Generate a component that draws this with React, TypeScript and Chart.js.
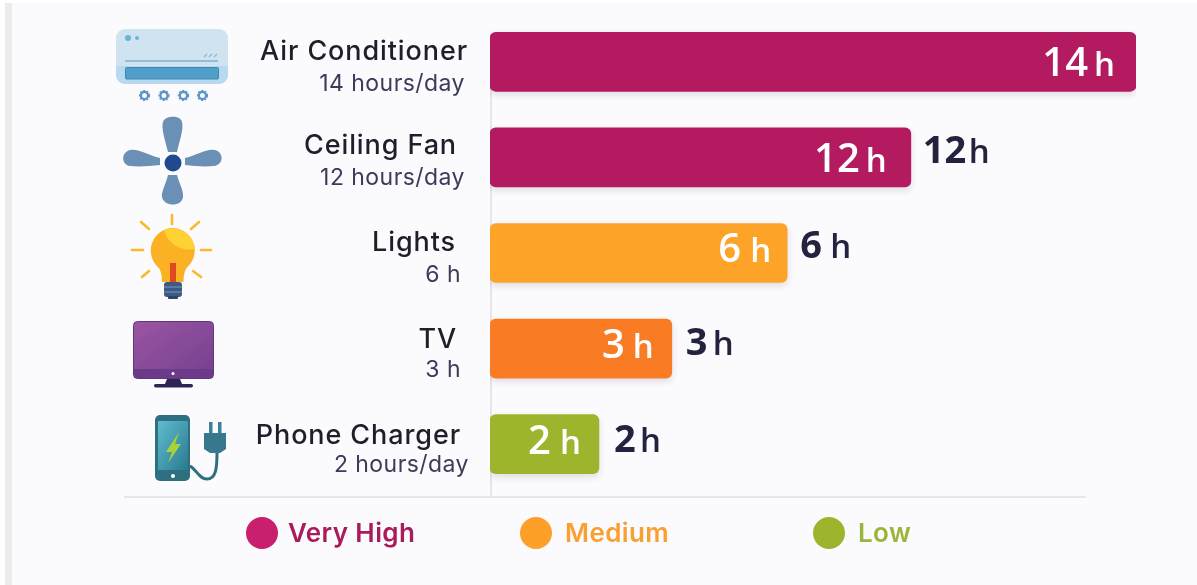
import React, { useEffect, useRef } from "react";
import { Chart, registerables } from "chart.js";

Chart.register(...registerables);

const appliances = ["Air Conditioner", "Ceiling Fan", "Lights", "TV", "Phone Charger"];
const usageNotes = ["14 hours/day", "12 hours/day", "6 h", "3 h", "2 hours/day"];
const statedHours = [14, 12, 6, 3, 2];
// The picture's bars are not proportional to their printed hours, so drawn lengths are read separately.
const drawnLengths = [14, 9.12, 6.44, 3.94, 2.36];
const barColors = ["#b31a60", "#b31a60", "#fda428", "#f97b24", "#9db52c"];
const legendNames = ["Very High", "Medium", "Low"];
const legendDots = ["#c81f6e", "#fd9f28", "#9db52c"];
const legendTexts = ["#a91b5c", "#f9a033", "#98b63a"];

const UI = '"Open Sans", "Noto Sans", sans-serif';
const LABEL = 'Inter, "Open Sans", sans-serif';
const nameStyle = [
  { r: 468, y: 60 }, { r: 457, y: 154 }, { r: 456, y: 251 }, { r: 457, y: 348 }, { r: 461, y: 444 },
];
const noteStyle = [
  { r: 465, y: 91 }, { r: 465, y: 185 }, { r: 461, y: 282 }, { r: 461, y: 377 }, { r: 469, y: 472 },
];
const insideStyle = [
  { back: 21, dy: 14, gap: 8 }, { back: 24, dy: 14.5, gap: 8 }, { back: 16, dy: 9, gap: 11 },
  { back: 18, dy: 9.5, gap: 10 }, { back: 18, dy: 10, gap: 11 },
];
const outsideStyle = [
  null, { start: 12, end: 79, dy: 5.5 }, { start: 13, end: 64, dy: 5 },
  { start: 14, end: 62, dy: 6.5 }, { start: 15, end: 62, dy: 8 },
];
const legendX = [262, 536, 829];
const legendTextX = [288, 565, 858];

const drawHours = (ctx: CanvasRenderingContext2D, n: number, numEnd: number, hEnd: number, y: number, color: string, numFont: string, hFont: string) => {
  ctx.fillStyle = color;
  ctx.textBaseline = "alphabetic";
  ctx.textAlign = "right";
  ctx.font = hFont;
  ctx.fillText("h", hEnd, y);
  ctx.font = numFont;
  ctx.fillText(String(n), numEnd, y);
};

const framePlugin = {
  id: "frame",
  beforeDatasetsDraw(chart: any) {
    const { ctx, scales } = chart;
    const zero = scales.x.getPixelForValue(0);
    ctx.save();
    ctx.strokeStyle = "#e6e4ec";
    ctx.lineWidth = 2;
    ctx.beginPath();
    ctx.moveTo(zero + 1, scales.y.getPixelForValue(0));
    ctx.lineTo(zero + 1, 497);
    ctx.moveTo(124, 497);
    ctx.lineTo(1086, 497);
    ctx.stroke();
    ctx.restore();
    ctx.save();
    ctx.shadowColor = "rgba(60,40,70,0.14)";
    ctx.shadowBlur = 7;
    ctx.shadowOffsetY = 3;
  },
  afterDatasetsDraw(chart: any) {
    const { ctx } = chart;
    ctx.restore();
    const bars = chart.getDatasetMeta(0).data;
    ctx.save();
    bars.forEach((bar: any, i: number) => {
      ctx.textBaseline = "alphabetic";
      ctx.textAlign = "right";
      ctx.fillStyle = "#1f1f2b";
      ctx.letterSpacing = "0.9px";
      ctx.font = `500 27px ${LABEL}`;
      ctx.fillText(appliances[i], nameStyle[i].r, nameStyle[i].y);
      ctx.fillStyle = "#3b3b5a";
      ctx.letterSpacing = "0.45px";
      ctx.font = `400 23px ${LABEL}`;
      ctx.fillText(usageNotes[i], noteStyle[i].r, noteStyle[i].y);
      ctx.letterSpacing = "0px";

      const ins = insideStyle[i];
      const hEnd = bar.x - ins.back;
      drawHours(ctx, statedHours[i], hEnd - 19 - ins.gap, hEnd, bar.y + ins.dy, "#ffffff", `600 40px ${UI}`, `600 33px ${UI}`);

      const out = outsideStyle[i];
      if (out) {
        const numFont = `700 38px ${UI}`;
        ctx.font = numFont;
        const w = ctx.measureText(String(statedHours[i])).width;
        drawHours(ctx, statedHours[i], bar.x + out.start + w, bar.x + out.end, bar.y + out.dy, "#23233f", numFont, `600 33px ${UI}`);
      }
    });
    legendNames.forEach((name, i) => {
      ctx.fillStyle = legendDots[i];
      ctx.beginPath();
      ctx.arc(legendX[i], 533, 16, 0, Math.PI * 2);
      ctx.fill();
      ctx.fillStyle = legendTexts[i];
      ctx.textAlign = "left";
      ctx.letterSpacing = "0.4px";
      ctx.font = `600 26px ${LABEL}`;
      ctx.fillText(name, legendTextX[i], 542);
    });
    ctx.restore();
  },
};

const Icons = () => (
  <svg width={1197} height={585} style={{ position: "absolute", left: 0, top: 0, pointerEvents: "none", filter: "blur(0.4px)" }}>
    <defs>
      <linearGradient id="scr" x1="0" y1="0" x2="1" y2="1">
        <stop offset="0" stopColor="#5fbcd0" />
        <stop offset="1" stopColor="#2b7a8f" />
      </linearGradient>
      <linearGradient id="tv" x1="0" y1="0" x2="1" y2="1">
        <stop offset="0" stopColor="#9a55a2" />
        <stop offset="1" stopColor="#74408f" />
      </linearGradient>
    </defs>
    {/* air conditioner */}
    <rect x={116} y={29} width={112} height={55} rx={9} fill="#cfe3f1" />
    <path d="M116 66H228V75a9 9 0 0 1-9 9H125a9 9 0 0 1-9-9Z" fill="#b8d9ef" />
    <line x1={125} y1={61} x2={218} y2={61} stroke="#7fb0d0" strokeWidth={1.5} />
    <rect x={125.5} y={67.5} width={93} height={11.5} rx={1} fill="#4f9fca" stroke="#3f87ae" />
    <circle cx={128} cy={38} r={3} fill="#6cb3d6" />
    <circle cx={137} cy={38} r={2} fill="#6cb3d6" />
    <path d="M204 57l3-3M209 57l3-3M214 57l3-3" stroke="#8fb6cf" strokeWidth={1.2} />
    {[144.5, 164, 183.5, 202.5].map((x) => (
      <g key={x}>
        <circle cx={x} cy={95.5} r={3.6} fill="none" stroke="#5c93c8" strokeWidth={2.2} />
        <circle cx={x} cy={95.5} r={5} fill="none" stroke="#5c93c8" strokeWidth={1.2} strokeDasharray="2 1.6" />
      </g>
    ))}
    {/* fan */}
    <g fill="#6b90b6">
      <path d="M168 152C165 140 161 128 163 122C165 115 181 115 182 122C184 130 179 142 177 152Z" />
      <path d="M168 175C166 184 161 192 162 197C164 207 182 207 183 197C184 191 179 183 177 175Z" />
      <path d="M160 158C148 155 138 148 130 150C121 152 121 165 130 166C140 167 150 166 160 165Z" />
      <path d="M185 158C197 155 207 148 215 150C224 152 224 165 214 166C204 167 194 166 185 165Z" />
    </g>
    <circle cx={173} cy={163} r={8.5} fill="#1f4a8f" />
    {/* bulb */}
    <g stroke="#fbb92e" strokeWidth={2.6} strokeLinecap="round">
      <line x1={172} y1={215} x2={172} y2={224} />
      <line x1={141} y1={222} x2={149} y2={229} />
      <line x1={199} y1={222} x2={191} y2={229} />
      <line x1={132} y1={250} x2={143} y2={250} />
      <line x1={201} y1={250} x2={211} y2={250} />
      <line x1={142} y1={277} x2={149} y2={271} />
      <line x1={201} y1={277} x2={193} y2={271} />
    </g>
    <path d="M172.500 228a22.500 22.500 0 0 1 15 39c-3 3-4 9-4 15H162c0-6-1-12-4-15a22.500 22.500 0 0 1 14.500-39Z" fill="#fbb124" />
    <path d="M164 230a22 22 0 0 1 24 5a22 22 0 0 1 7 14a26 26 0 0 1-31-19Z" fill="#ffd233" />
    <rect x={170} y={263} width={6} height={19} fill="#e0491f" />
    <rect x={164} y={282} width={18} height={15} rx={3} fill="#3d5a85" />
    <path d="M164 287H182M164 292H182" stroke="#7f97b8" strokeWidth={1} />
    <rect x={168} y={296} width={10} height={3} rx={1} fill="#2d4468" />
    {/* tv */}
    <rect x={133.5} y={321.5} width={80} height={57} rx={4} fill="url(#tv)" stroke="#63357f" />
    <rect x={134} y={369} width={79} height={9} fill="#6b3a88" />
    <circle cx={173} cy={373.5} r={1.5} fill="#ffffff" />
    <path d="M167 379H180L182 384H165Z" fill="#2f2350" />
    <rect x={154} y={384} width={39} height={3.5} rx={1.7} fill="#2f2350" />
    {/* phone charger */}
    <rect x={155} y={415} width={35} height={66} rx={5} fill="#2e6f80" />
    <rect x={158} y={421} width={30} height={49} fill="url(#scr)" />
    <path d="M179 432L166 452H172L168 463L181 444H175Z" fill="#a8d13a" />
    <circle cx={173} cy={476} r={2} fill="#ffffff" />
    <rect x={209} y={422} width={3.5} height={12} fill="#3a8096" />
    <rect x={218} y={422} width={3.5} height={12} fill="#3a8096" />
    <path d="M204 433H226V449L220 453H210L204 449Z" fill="#38788e" />
    <path d="M190 466C197 470 199 479 207 479C216 479 217 468 217 453" fill="none" stroke="#2e6f80" strokeWidth={3} />
  </svg>
);

export default function App() {
  const ref = useRef<HTMLCanvasElement>(null);
  useEffect(() => {
    const chart = new Chart(ref.current!, {
      type: "bar",
      data: {
        labels: appliances,
        datasets: [
          {
            data: drawnLengths,
            backgroundColor: barColors,
            barThickness: 59,
            borderRadius: 6,
            borderSkipped: false,
          },
        ],
      },
      options: {
        indexAxis: "y",
        animation: false,
        responsive: false,
        layout: { padding: { left: 490, right: 61, top: 14, bottom: 93 } },
        plugins: { legend: { display: false }, tooltip: { enabled: false } },
        scales: {
          x: { display: false, min: 0, max: 14 },
          y: { display: false },
        },
      },
      plugins: [framePlugin],
    } as any);
    return () => chart.destroy();
  }, []);
  return (
    <div style={{ position: "fixed", left: 0, top: 0, width: 1197, height: 585, background: "#ffffff", overflow: "hidden" }}>
      <div style={{ position: "absolute", left: 5, top: 3, width: 7, height: 582, background: "#ececed" }} />
      <div style={{ position: "absolute", left: 12, top: 3, width: 1185, height: 582, background: "#fbfafd" }} />
      <canvas ref={ref} width={1197} height={585} style={{ position: "absolute", left: 0, top: 0, display: "block" }} />
      <Icons />
    </div>
  );
}
